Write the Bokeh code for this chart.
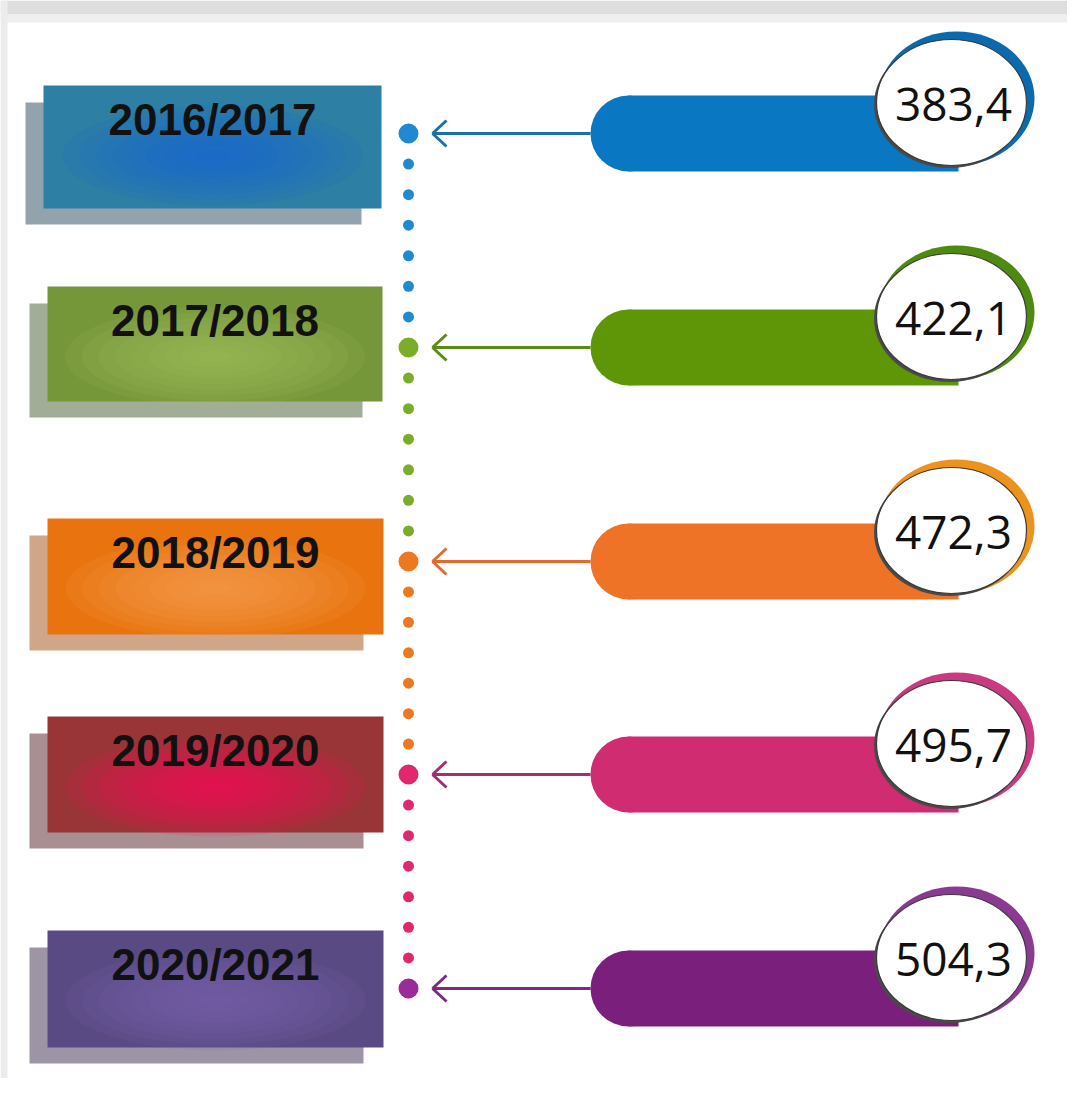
from bokeh.plotting import figure
from bokeh.models import Range1d
from bokeh.core.properties import value
from bokeh.embed import file_html
from bokeh.resources import INLINE

# ---- data ----
seasons = ["2016/2017", "2017/2018", "2018/2019", "2019/2020", "2020/2021"]
values = [383.4, 422.1, 472.3, 495.7, 504.3]
value_labels = [f"{v:.1f}".replace(".", ",") for v in values]

# ---- styles ----
box_colors = ["#2d7fa3", "#76963a", "#e8730f", "#9a3537", "#5a4a84"]
glow_colors = ["#1463dc", "#a2c45e", "#f7a553", "#ff0a5e", "#7e68ae"]
shadow_colors = ["#93a3ae", "#a2ad98", "#d0a68a", "#a98f92", "#9d94a6"]
dot_colors = ["#1f89d2", "#7aad28", "#ee7820", "#e0286e", "#9b2b9b"]
bar_colors = ["#0a77c2", "#5f9608", "#ee7326", "#cf2c72", "#7a1f7c"]
ring_colors = ["#0b6aad", "#4f8a10", "#eb931c", "#c93a80", "#8b3a91"]
arrow_colors = ["#1a70a8", "#5c8a18", "#e26a2e", "#a03070", "#7a2a80"]

# ---- layout (pixel coordinates of the picture) ----
anchor_y = [133, 347, 561, 774, 988]
box_left = [43, 47, 47, 47, 47]
box_right = [381, 382, 383, 383, 383]
box_top = [85, 286, 518, 716, 930]
box_bottom = [208, 401, 634, 832, 1047]
dots_x = 408
bar_left, bar_right, bar_half = 590, 958, 38
arrow_tip = 432
circle_x, circle_dy, circle_w, circle_h = 951, -31, 150, 126

p = figure(width=1067, height=1078, x_range=Range1d(0, 1067), y_range=Range1d(1078, 0),
           output_backend="svg", toolbar_location=None, min_border=0,
           x_axis_type=None, y_axis_type=None)
p.grid.visible = False
p.outline_line_color = None
p.background_fill_color = "white"
p.border_fill_color = "white"

# frame: grey band at top and a thin strip at left
p.quad(left=[0], right=[1067], top=[0], bottom=[14], fill_color="#dedede", line_color=None)
p.quad(left=[0], right=[1067], top=[14], bottom=[22], fill_color="#efefef", line_color=None)
p.quad(left=[0], right=[7], top=[0], bottom=[1078], fill_color="#ececec", line_color=None)

n = len(seasons)
# shadows
p.quad(left=[l - 18 for l in box_left], right=[r - 20 for r in box_right],
       top=[t + 17 for t in box_top], bottom=[b + 16 for b in box_bottom],
       fill_color=shadow_colors, line_color=None)
# boxes
p.quad(left=box_left, right=box_right, top=box_top, bottom=box_bottom,
       fill_color=box_colors, line_color=None)
# radial glow approximation
layers = 9
for k in range(layers):
    f = 1 - k / layers
    p.ellipse(x=[(l + r) / 2 for l, r in zip(box_left, box_right)],
              y=[t + 70 for t in box_top],
              width=[300 * f] * n, height=[100 * f] * n,
              fill_color=glow_colors, fill_alpha=0.13, line_color=None)
# year labels
p.text(x=[(l + r) / 2 for l, r in zip(box_left, box_right)], y=[t + 34 for t in box_top],
       text=seasons, text_align="center", text_baseline="middle",
       text_font=value("Liberation Sans"), text_font_style="bold",
       text_font_size="44px", text_color="#111111")

# dotted timeline
sx, sy, sc = [], [], []
for i in range(n - 1):
    step = (anchor_y[i + 1] - anchor_y[i]) / 7
    for k in range(1, 7):
        sx.append(dots_x)
        sy.append(anchor_y[i] + k * step)
        sc.append(dot_colors[i])
p.scatter(x=sx, y=sy, size=11, fill_color=sc, line_color=None)
p.scatter(x=[dots_x] * n, y=anchor_y, size=20, fill_color=dot_colors, line_color=None)

# arrows
p.segment(x0=[bar_left] * n, y0=anchor_y, x1=[arrow_tip] * n, y1=anchor_y,
          line_color=arrow_colors, line_width=3)
p.segment(x0=[arrow_tip] * n, y0=anchor_y, x1=[arrow_tip + 14] * n, y1=[y - 13 for y in anchor_y],
          line_color=arrow_colors, line_width=3)
p.segment(x0=[arrow_tip] * n, y0=anchor_y, x1=[arrow_tip + 14] * n, y1=[y + 13 for y in anchor_y],
          line_color=arrow_colors, line_width=3)

# bars (stadium shape)
p.quad(left=[bar_left + bar_half] * n, right=[bar_right] * n,
       top=[y - bar_half for y in anchor_y], bottom=[y + bar_half for y in anchor_y],
       fill_color=bar_colors, line_color=None)
p.ellipse(x=[bar_left + bar_half] * n, y=anchor_y, width=[2 * bar_half] * n,
          height=[2 * bar_half] * n, fill_color=bar_colors, line_color=None)

# value badges
cy = [y + circle_dy for y in anchor_y]
p.ellipse(x=[circle_x + 5] * n, y=[c - 4 for c in cy], width=[circle_w + 6] * n,
          height=[circle_h + 8] * n, fill_color=ring_colors, line_color=None)
p.ellipse(x=[circle_x - 2] * n, y=[c + 2 for c in cy], width=[circle_w + 1] * n,
          height=[circle_h + 1] * n, fill_color="#4a4a4a", line_color=None)
p.ellipse(x=[circle_x] * n, y=cy, width=[circle_w] * n, height=[circle_h] * n,
          fill_color="white", line_color="#3a3a3a", line_width=1.2)
p.text(x=[circle_x + 2] * n, y=[c + 2 for c in cy], text=value_labels,
       text_align="center", text_baseline="middle",
       text_font=value("Open Sans"), text_font_size="46px", text_color="#111111")

open("out.html", "w").write(file_html(p, INLINE))
